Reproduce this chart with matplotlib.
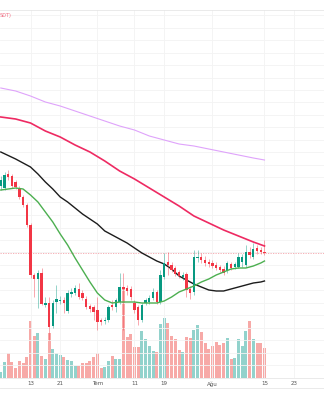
import numpy as np
import pandas as pd
import matplotlib
matplotlib.use("Agg")
import matplotlib.pyplot as plt
import matplotlib.dates as mdates
from matplotlib.lines import Line2D

# ---- daily candles (USDT), 2024-06-05 .. 2024-08-15, eight sessions per row ----
dates = pd.date_range("2024-06-05", periods=72, freq="D")

opens = [2.14, 2.12, 2.26, 2.24, 2.18, 2.12, 2.03, 1.95,
         1.75, 1.25, 1.21, 1.27, 0.95, 0.97, 0.74, 0.98,
         0.99, 1.00, 0.89, 1.06, 1.07, 1.11, 1.07, 1.01,
         0.94, 0.93, 0.90, 0.80, 0.79, 0.80, 0.95, 0.93,
         0.98, 1.13, 1.12, 1.11, 0.97, 0.93, 0.80, 0.97,
         0.98, 1.02, 1.08, 0.98, 1.23, 1.38, 1.35, 1.32,
         1.28, 1.23, 1.26, 1.11, 1.08, 1.42, 1.43, 1.40,
         1.38, 1.37, 1.35, 1.33, 1.31, 1.29, 1.36, 1.33,
         1.33, 1.38, 1.35, 1.48, 1.43, 1.52, 1.50, 1.48]
highs = [2.24, 2.28, 2.30, 2.26, 2.20, 2.14, 2.05, 1.97,
         1.77, 1.27, 1.30, 1.32, 1.03, 1.03, 1.00, 1.15,
         1.04, 1.03, 1.10, 1.12, 1.15, 1.17, 1.10, 1.04,
         0.96, 0.95, 1.03, 0.82, 0.83, 0.95, 1.00, 1.02,
         1.27, 1.27, 1.15, 1.14, 1.00, 0.95, 0.97, 1.02,
         1.05, 1.12, 1.10, 1.30, 1.47, 1.48, 1.38, 1.34,
         1.30, 1.28, 1.28, 1.14, 1.50, 1.50, 1.47, 1.44,
         1.41, 1.40, 1.38, 1.35, 1.34, 1.39, 1.38, 1.38,
         1.47, 1.46, 1.55, 1.53, 1.57, 1.55, 1.53, 1.60]
lows = [2.10, 2.10, 2.20, 2.12, 2.11, 2.01, 1.93, 1.73,
        1.22, 1.03, 0.92, 0.95, 0.93, 0.60, 0.72, 0.87,
        0.96, 0.87, 0.87, 1.03, 1.05, 1.01, 1.00, 0.91,
        0.88, 0.80, 0.70, 0.75, 0.76, 0.78, 0.90, 0.88,
        0.96, 0.70, 1.05, 1.00, 0.87, 0.75, 0.78, 0.95,
        0.96, 1.00, 0.96, 0.96, 1.21, 1.25, 1.28, 1.24,
        1.22, 1.20, 1.03, 1.01, 1.05, 1.38, 1.37, 1.34,
        1.33, 1.32, 1.30, 1.28, 1.25, 1.27, 1.30, 1.31,
        1.32, 1.33, 1.33, 1.42, 1.41, 1.46, 1.46, 1.45]
closes = [2.20, 2.25, 2.23, 2.14, 2.13, 2.03, 1.95, 1.75,
          1.25, 1.21, 1.27, 0.96, 0.97, 0.73, 0.97, 1.01,
          1.00, 0.97, 1.07, 1.08, 1.12, 1.03, 1.02, 0.93,
          0.91, 0.88, 0.78, 0.78, 0.80, 0.93, 0.93, 1.00,
          1.13, 1.11, 1.09, 1.03, 0.90, 0.80, 0.95, 1.00,
          1.02, 1.08, 0.98, 1.25, 1.37, 1.35, 1.30, 1.26,
          1.24, 1.25, 1.10, 1.07, 1.43, 1.43, 1.40, 1.37,
          1.36, 1.34, 1.32, 1.30, 1.27, 1.37, 1.32, 1.36,
          1.43, 1.43, 1.48, 1.45, 1.51, 1.49, 1.48, 1.47]
volumes = [5.6, 15.7, 25.0, 15.7, 10.0, 17.3, 14.7, 20.7,
           57.3, 42.3, 45.3, 22.3, 19.0, 44.7, 29.0, 24.7,
           23.3, 21.3, 18.3, 17.3, 12.3, 11.7, 14.7, 14.7,
           17.3, 20.7, 25.0, 10.0, 11.3, 16.7, 21.7, 19.0,
           19.0, 90.0, 40.7, 44.0, 31.3, 31.3, 47.3, 39.0,
           32.3, 27.3, 26.3, 54.0, 60.0, 54.7, 42.3, 39.0,
           28.0, 25.7, 41.3, 40.0, 48.0, 53.3, 45.7, 34.7,
           29.0, 32.3, 35.7, 33.3, 34.7, 40.0, 19.0, 20.0,
           39.0, 32.3, 47.3, 56.7, 39.0, 34.7, 34.7, 29.7]

# ---- moving averages, sampled every few sessions ----
ma_fast_dates = pd.to_datetime([
    "2024-06-05", "2024-06-09", "2024-06-11", "2024-06-13", "2024-06-15", "2024-06-17",
    "2024-06-19", "2024-06-21", "2024-06-23", "2024-06-25", "2024-06-27", "2024-06-29",
    "2024-07-01", "2024-07-03", "2024-07-05", "2024-07-07", "2024-07-09", "2024-07-11",
    "2024-07-13", "2024-07-15", "2024-07-17", "2024-07-19", "2024-07-21", "2024-07-23",
    "2024-07-25", "2024-07-27", "2024-07-29", "2024-07-31", "2024-08-02", "2024-08-04",
    "2024-08-06", "2024-08-08", "2024-08-10", "2024-08-12", "2024-08-14", "2024-08-15"])
ma_fast = [2.10, 2.12, 2.11, 2.05, 1.98, 1.88, 1.78, 1.66, 1.55, 1.42, 1.30, 1.18,
           1.07, 1.00, 0.97, 0.98, 0.98, 0.98, 0.97, 0.97, 0.97, 0.99, 1.03, 1.08,
           1.11, 1.14, 1.18, 1.21, 1.25, 1.28, 1.31, 1.32, 1.32, 1.34, 1.37, 1.39]

ma_mid_dates = pd.to_datetime([
    "2024-06-05", "2024-06-09", "2024-06-13", "2024-06-15", "2024-06-17", "2024-06-19",
    "2024-06-21", "2024-06-23", "2024-06-25", "2024-06-27", "2024-06-29", "2024-07-01",
    "2024-07-03", "2024-07-05", "2024-07-07", "2024-07-09", "2024-07-11", "2024-07-13",
    "2024-07-15", "2024-07-17", "2024-07-19", "2024-07-21", "2024-07-23", "2024-07-25",
    "2024-07-27", "2024-07-29", "2024-07-31", "2024-08-02", "2024-08-04", "2024-08-06",
    "2024-08-08", "2024-08-10", "2024-08-12", "2024-08-14", "2024-08-15"])
ma_mid = [2.48, 2.41, 2.33, 2.26, 2.18, 2.11, 2.03, 1.98, 1.92, 1.86, 1.81, 1.76,
          1.69, 1.65, 1.61, 1.57, 1.52, 1.47, 1.43, 1.39, 1.36, 1.31, 1.24, 1.20,
          1.16, 1.13, 1.10, 1.09, 1.09, 1.11, 1.13, 1.15, 1.17, 1.18, 1.19]

ma_slow_dates = pd.to_datetime([
    "2024-06-05", "2024-06-09", "2024-06-13", "2024-06-17", "2024-06-21", "2024-06-25",
    "2024-06-29", "2024-07-03", "2024-07-07", "2024-07-11", "2024-07-15", "2024-07-19",
    "2024-07-23", "2024-07-27", "2024-07-31", "2024-08-04", "2024-08-08", "2024-08-12",
    "2024-08-15"])
ma_slow = [2.83, 2.81, 2.77, 2.69, 2.63, 2.55, 2.48, 2.39, 2.29, 2.21, 2.12, 2.03,
           1.94, 1.84, 1.77, 1.70, 1.64, 1.58, 1.54]
ma_long = [3.12, 3.09, 3.04, 2.98, 2.94, 2.89, 2.84, 2.79, 2.74, 2.70, 2.64, 2.60,
           2.56, 2.54, 2.51, 2.48, 2.45, 2.42, 2.40]

tick_dates = pd.to_datetime(["2024-06-13", "2024-06-21", "2024-07-01", "2024-07-11",
                             "2024-07-19", "2024-08-01", "2024-08-15", "2024-08-23"])
tick_labels = ["13", "21", "Tem", "11", "19", "Ağu", "15", "23"]
last_price = closes[-1]

UP, DOWN = "#089981", "#f23645"
VOL_UP, VOL_DOWN = "#92d2cc", "#f7a9a7"

W, H = 324, 400
fig = plt.figure(figsize=(W / 100, H / 100), dpi=100)
fig.patch.set_facecolor("white")

pane_top, pane_bottom = 10, 378
rect = [0, 1 - pane_bottom / H, 1, (pane_bottom - pane_top) / H]
vax = fig.add_axes(rect, zorder=0)
ax = fig.add_axes(rect, zorder=1)
ax.patch.set_alpha(0)

x = mdates.date2num(dates)
px_per_day = 3.714
x0 = mdates.date2num(pd.Timestamp("2024-06-13")) - 30.5 / px_per_day
x1 = x0 + W / px_per_day

for a in (ax, vax):
    a.set_xlim(x0, x1)
    for s in a.spines.values():
        s.set_visible(False)
ax.set_ylim(0.22, 3.90)
vax.set_ylim(0, pane_bottom - pane_top)
vax.set_yticks([])
vax.set_xticks([])

# grid
for gy in np.arange(0.225, 3.90, 0.125):
    ax.axhline(gy, color="#f3f3f3", lw=0.6, zorder=0)
for t in mdates.date2num(tick_dates):
    ax.axvline(t, color="#f3f3f3", lw=0.6, zorder=0)

# volume histogram
opens_a, closes_a = np.array(opens), np.array(closes)
up = closes_a >= opens_a
vax.bar(x, volumes, width=0.78, color=np.where(up, VOL_UP, VOL_DOWN), linewidth=0)

# candles
body_w = 0.62
for xi, o, h, l, c, u in zip(x, opens, highs, lows, closes, up):
    col = UP if u else DOWN
    ax.vlines(xi, l, h, color=col, lw=0.6, alpha=0.5, zorder=3)
    lo, hi = min(o, c), max(o, c)
    ax.add_patch(plt.Rectangle((xi - body_w / 2, lo), body_w, max(hi - lo, 0.012),
                               facecolor=col, edgecolor="none", zorder=4))

# moving averages
ax.plot(mdates.date2num(ma_slow_dates), ma_long, color="#dfa3fb", lw=0.8, zorder=2)
ax.plot(mdates.date2num(ma_slow_dates), ma_slow, color="#ee2a62", lw=1.2, zorder=2)
ax.plot(mdates.date2num(ma_mid_dates), ma_mid, color="#1c1c1c", lw=1.0, zorder=2)
ax.plot(mdates.date2num(ma_fast_dates), ma_fast, color="#4caf50", lw=1.0, zorder=5)

# last price line
ax.axhline(last_price, color="#f5a3ab", lw=0.6, ls=(0, (1.5, 1.5)), zorder=1)

ax.set_yticks([])
ax.set_xticks(mdates.date2num(tick_dates))
ax.set_xticklabels(tick_labels, fontsize=4, color="#555555")
ax.tick_params(axis="x", length=0, pad=2.2)

# pane borders
for yy in (pane_top, pane_bottom, 388):
    fig.add_artist(Line2D([0, 1], [1 - yy / H] * 2, color="#e6e6e6", lw=0.6))

fig.text(0.0, 1 - 15.5 / H, "SDT)", fontsize=3.6, color="#f06b80", va="center", ha="left")

fig.savefig("out.png", dpi=100, facecolor="white")
